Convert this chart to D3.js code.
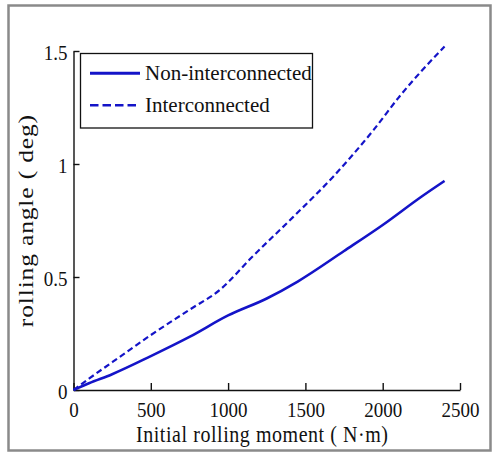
<!DOCTYPE html>
<html>
<head>
<meta charset="utf-8">
<script src="https://cdn.jsdelivr.net/npm/d3@7"></script>
<style>
  body { margin: 0; background: #fff; }
</style>
</head>
<body>
<svg width="496" height="456"></svg>
<script>
// values
var moment = [0, 100, 250, 500, 750, 1000, 1250, 1450, 1750, 2000, 2250, 2400];
var nonInterconnected = [0, 0.03, 0.07, 0.15, 0.235, 0.33, 0.405, 0.48, 0.615, 0.73, 0.855, 0.925];
var momentB = [0, 100, 300, 500, 750, 950, 1150, 1420, 1680, 1940, 2110, 2400];
var interconnected = [0, 0.05, 0.147, 0.243, 0.355, 0.445, 0.585, 0.765, 0.944, 1.15, 1.30, 1.52];
var xTicks = [0, 500, 1000, 1500, 2000, 2500];
var yTicks = [0, 0.5, 1, 1.5];
var legendNames = ['Non-interconnected', 'Interconnected'];

var blue = '#1414c8';
var serif = '"Liberation Serif", "Times New Roman", "DejaVu Serif", serif';
var svg = d3.select('svg');

//outer frame
svg.append('rect')
    .attr('x', 8.5).attr('y', 5.5)
    .attr('width', 482).attr('height', 445)
    .style('fill', 'none')
    .style('stroke', '#8a8a8a')
    .style('stroke-width', 2.5);

//scales
var xScale = d3.scaleLinear().domain([0, 2500]).range([73.5, 460]);
var yScale = d3.scaleLinear().domain([0, 1.5]).range([390, 51]);

//x-axis, ticks pointing inward
var xAxis = d3.axisBottom(xScale)
    .tickValues(xTicks)
    .tickSizeInner(-7)
    .tickSizeOuter(0)
    .tickFormat(d3.format('d'));

var gx = svg.append('g')
    .attr('transform', 'translate(0,390)')
    .call(xAxis)
    .attr('font-family', serif);

gx.selectAll('text')
    .attr('y', null).attr('dy', null)
    .attr('transform', 'translate(0,27) scale(1,1.14)')
    .style('font-family', serif)
    .style('font-size', '19px')
    .style('fill', '#111');

//y-axis
var yAxis = d3.axisLeft(yScale)
    .tickValues(yTicks)
    .tickSizeInner(-6)
    .tickSizeOuter(0)
    .tickFormat(d => d === 0 ? '0' : d3.format('.1~f')(d));

var gy = svg.append('g')
    .attr('transform', 'translate(73.5,0)')
    .call(yAxis)
    .attr('font-family', serif);

gy.selectAll('text')
    .attr('x', null).attr('dy', null)
    .attr('transform', 'translate(-6,8) scale(1,1.14)')
    .style('font-family', serif)
    .style('font-size', '19px')
    .style('fill', '#111');

svg.selectAll('.domain, .tick line')
    .style('stroke', '#111')
    .style('stroke-width', 1.4);
svg.selectAll('.domain').style('fill', 'none');

//axis labels
svg.append('text')
    .attr('transform', 'translate(262,442) scale(1,1.14)')
    .attr('text-anchor', 'middle')
    .attr('textLength', 252)
    .attr('lengthAdjust', 'spacing')
    .style('font-family', serif)
    .style('font-size', '20px')
    .style('fill', '#111')
    .text('Initial rolling moment (  N\u00b7m)');

svg.append('text')
    .attr('transform', 'translate(33,221) scale(1,1.22) rotate(-90)')
    .attr('text-anchor', 'middle')
    .attr('textLength', 174)
    .attr('lengthAdjust', 'spacing')
    .style('font-family', serif)
    .style('font-size', '21px')
    .style('fill', '#111')
    .text('rolling angle (  deg)');

//curves
var line = d3.line()
    .x(d => xScale(d[0]))
    .y(d => yScale(d[1]))
    .curve(d3.curveMonotoneX);

svg.append('path')
    .datum(d3.zip(moment, nonInterconnected))
    .attr('d', line)
    .style('fill', 'none')
    .style('stroke', blue)
    .style('stroke-width', 2.6);

svg.append('path')
    .datum(d3.zip(momentB, interconnected))
    .attr('d', line)
    .style('fill', 'none')
    .style('stroke', blue)
    .style('stroke-width', 2.2)
    .style('stroke-dasharray', '6,3.5');

//legend
var legend = svg.append('g');
legend.append('rect')
    .attr('x', 80.5).attr('y', 53.5)
    .attr('width', 232).attr('height', 74.5)
    .style('fill', '#fff')
    .style('stroke', '#111')
    .style('stroke-width', 1.3);

legendNames.forEach(function (name, i) {
    var y = 73.3 + i * 32;
    legend.append('line')
        .attr('x1', 90).attr('x2', 140)
        .attr('y1', y).attr('y2', y)
        .style('stroke', blue)
        .style('stroke-width', i === 0 ? 3 : 2.6)
        .style('stroke-dasharray', i === 0 ? null : '8.5,4');
    legend.append('text')
        .attr('x', 145)
        .attr('y', y + 6.6)
        .style('font-family', serif)
        .style('font-size', '21px')
        .style('fill', '#111')
        .text(name);
});
</script>
</body>
</html>
